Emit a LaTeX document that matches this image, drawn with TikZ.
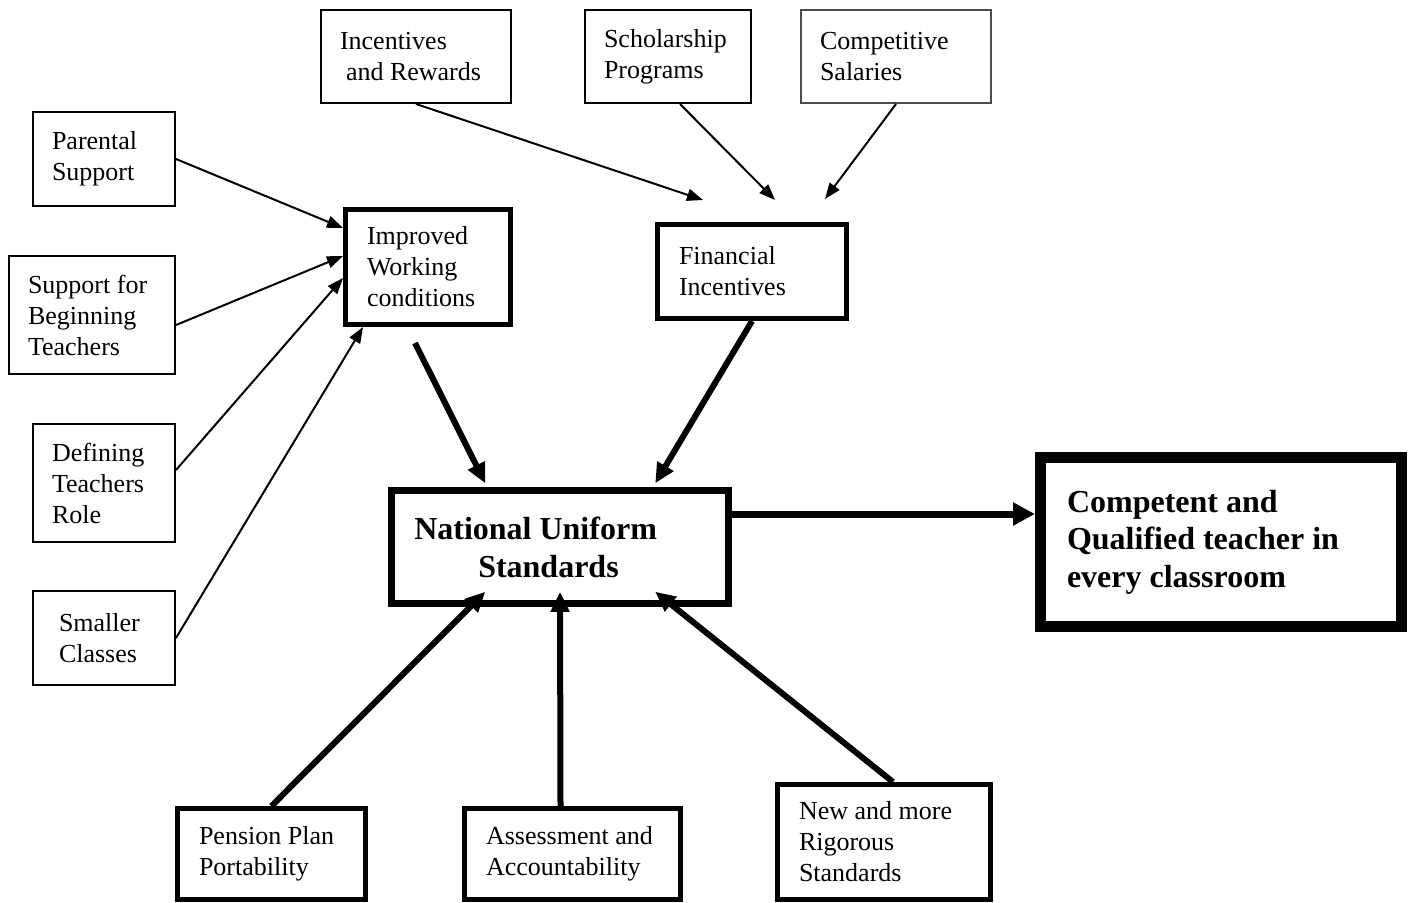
\documentclass[tikz,border=0pt]{standalone}
\usepackage{fontspec}
\setmainfont{Liberation Serif}
\usepackage{tikz}
\usetikzlibrary{arrows.meta,positioning}

\begin{document}
\begin{tikzpicture}[x=0.5pt, y=-0.5pt,
  thinbox/.style={rectangle, draw=black, line width=1pt, inner xsep=9.5pt, align=flush left, font=\fontsize{13}{15.5}\selectfont},
  thickbox/.style={rectangle, draw=black, line width=2.5pt, inner xsep=10.75pt, align=flush left, font=\fontsize{13}{15.5}\selectfont},
  mainbox/.style={rectangle, draw=black, line width=3.5pt, inner xsep=11.25pt, align=flush left, font=\fontsize{16}{19}\selectfont\bfseries},
  goalbox/.style={rectangle, draw=black, line width=5.5pt, inner xsep=13.25pt, align=flush left, font=\fontsize{16}{18.75}\selectfont\bfseries},
  arrow/.style={line width=1pt, -{Triangle[length=8pt, width=6pt]}},
  bigarrow/.style={line width=3pt, -{Triangle[length=10pt, width=9pt]}}
]
\useasboundingbox (0,0) rectangle (1411,902);

% Top row
\node[thinbox, minimum width=95pt, minimum height=46.5pt, text width=76pt] (incent) at (416,56.5) {Incentives\\\hspace*{3pt}and Rewards};
\node[thinbox, minimum width=83pt, minimum height=46.5pt, text width=64pt] (schol) at (668,56.5) {Scholarship\\Programs};
\node[thinbox, draw=black!70, minimum width=95pt, minimum height=46.5pt, text width=76pt] (compsal) at (896,56.5) {Competitive\\Salaries};

% Left column
\node[thinbox, minimum width=71pt, minimum height=47pt, text width=52pt] (parental) at (104,159) {Parental\\Support};
\node[thinbox, minimum width=83pt, minimum height=59pt, text width=64pt] (beginning) at (92,315) {Support for\\Beginning\\Teachers};
\node[thinbox, minimum width=71pt, minimum height=59pt, text width=52pt] (defining) at (104,483) {Defining\\Teachers\\Role};
\node[thinbox, inner xsep=13pt, minimum width=71pt, minimum height=47pt, text width=45pt] (smaller) at (104,638) {Smaller\\Classes};

% Middle level
\node[thickbox, minimum width=82.5pt, minimum height=57.5pt, text width=61pt] (improved) at (428,267) {Improved\\Working\\conditions};
\node[thickbox, minimum width=94.5pt, minimum height=47pt, text width=73pt] (financial) at (752,271.5) {Financial\\Incentives};

% Centre and goal
\node[mainbox, minimum width=168.25pt, minimum height=56.25pt, text width=145.75pt] (nus) at (560,547) {National Uniform\\\hspace*{32pt}Standards};
\node[goalbox, minimum width=180.5pt, minimum height=84.5pt, text width=154pt] (competent) at (1221,542) {Competent and\\Qualified teacher in\\every classroom};

% Bottom row
\node[thickbox, minimum width=94pt, minimum height=45.5pt, text width=72.5pt] (pension) at (271.5,854) {Pension Plan\\Portability};
\node[thickbox, minimum width=108pt, minimum height=45.5pt, text width=86.5pt] (assess) at (572.5,854) {Assessment and\\Accountability};
\node[thickbox, minimum width=106.5pt, minimum height=57.5pt, text width=85pt] (newstd) at (884,842) {New and more\\Rigorous\\Standards};

% Into working conditions
\draw[arrow] (parental.east) -- ([yshift=19.5pt]improved.west);
\draw[arrow] ([yshift=-5pt]beginning.east) -- ([yshift=5.5pt]improved.west);
\draw[arrow] ([yshift=6.5pt]defining.east) -- ([yshift=-5.5pt]improved.west);
\draw[arrow] (smaller.east) -- ([xshift=10pt]improved.south west);

% Into financial incentives
\draw[arrow] (incent.south) -- ([xshift=24pt,yshift=11pt]financial.north west);
\draw[arrow] ([xshift=6pt]schol.south) -- ([xshift=60pt,yshift=11pt]financial.north west);
\draw[arrow] (compsal.south) -- ([xshift=85pt,yshift=11.5pt]financial.north west);

% Into national standards
\draw[bigarrow] ([xshift=-6.5pt,yshift=-8pt]improved.south) -- ([xshift=48.5pt,yshift=2pt]nus.north west);
\draw[bigarrow] (financial.south) -- ([xshift=133.5pt,yshift=2pt]nus.north west);
\draw[bigarrow] (pension.north) -- ([xshift=48.5pt,yshift=7.5pt]nus.south west);
\draw[bigarrow] ([xshift=-6pt]assess.north) -- ([yshift=7.5pt]nus.south);
\draw[bigarrow] ([xshift=4.5pt]newstd.north) -- ([xshift=133.5pt,yshift=7.5pt]nus.south west);

% Outcome
\draw[line width=3.5pt, -{Triangle[length=11pt, width=11pt]}] ([yshift=16.5pt]nus.east) -- ([yshift=14pt]competent.west);

\end{tikzpicture}
\end{document}
